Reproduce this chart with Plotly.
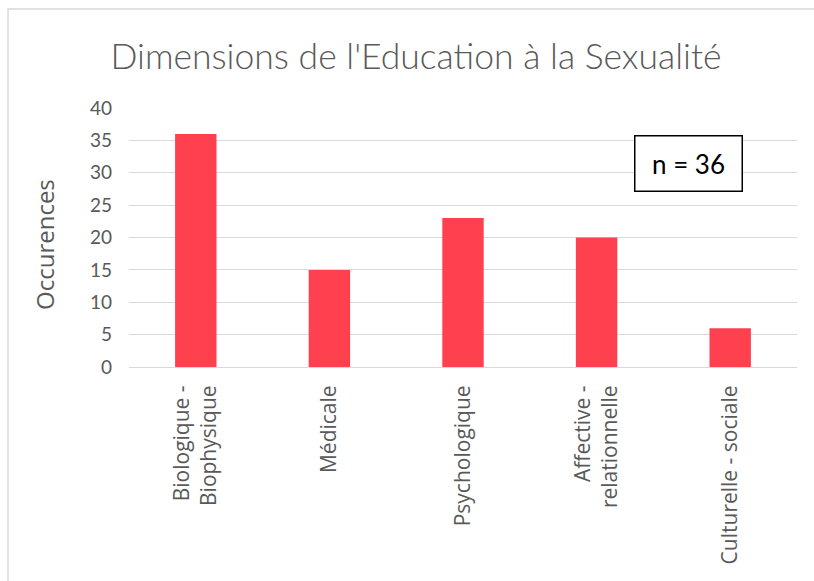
import plotly.graph_objects as go

categories = ["Biologique -<br>Biophysique", "Médicale", "Psychologique",
              "Affective -<br>relationnelle", "Culturelle - sociale"]
values = [36, 15, 23, 20, 6]
y_ticks = [0, 5, 10, 15, 20, 25, 30, 35, 40]

L, R, T, B = 129, 17, 108, 214
W, H = 814, 581
pw, ph = W - L - R, H - T - B

def px(x):
    return (x - L) / pw

def py(y):
    return (H - B - y) / ph

fig = go.Figure(go.Bar(x=categories, y=values, marker=dict(color="#FF404F", line=dict(width=0)),
                       width=0.31))

fig.update_layout(
    width=W, height=H,
    margin=dict(l=L, r=R, t=T, b=B),
    paper_bgcolor="white", plot_bgcolor="white",
    showlegend=False,
    title=dict(text="Dimensions de l'Education à la Sexualité", x=px(416), xref="paper", xanchor="center",
               y=1 - 57 / H, yanchor="middle",
               font=dict(family="Lato", size=35.5, color="#595959", weight=300)),
    font=dict(family="Lato", color="#595959"),
)
fig.update_xaxes(tickangle=-90, tickfont=dict(family="Open Sans", size=21, color="#595959"),
                 showgrid=False, showline=True, linecolor="#D9D9D9", linewidth=1,
                 ticks="", ticklabelstandoff=9, fixedrange=True)
fig.update_yaxes(range=[0, 40], tickvals=y_ticks, tickfont=dict(family="Lato", size=19, color="#595959"),
                 showgrid=True, gridcolor="#D9D9D9", gridwidth=1, zeroline=False,
                 ticks="", ticklen=0, ticklabelstandoff=16, fixedrange=True)

fig.add_annotation(x=px(44), y=py(245), xref="paper", yref="paper",
                   xanchor="center", yanchor="middle", textangle=-90,
                   text="Occurences", showarrow=False,
                   font=dict(family="Open Sans", size=24, color="#595959"))

fig.add_annotation(x=px(688), y=py(163), xref="paper", yref="paper",
                   xanchor="center", yanchor="middle",
                   text="n = 36", showarrow=False,
                   font=dict(family="Lato", size=26, color="black"),
                   bordercolor="black", borderwidth=1.5, borderpad=8,
                   bgcolor="white", width=90, height=38)

fig.add_shape(type="rect", xref="paper", yref="paper",
              x0=px(8), x1=px(830), y0=py(600), y1=py(9),
              line=dict(color="#D9D9D9", width=1.5), layer="below")

fig.write_html("out.html", config={"displayModeBar": False},
               post_script="document.body.style.margin='0';")
